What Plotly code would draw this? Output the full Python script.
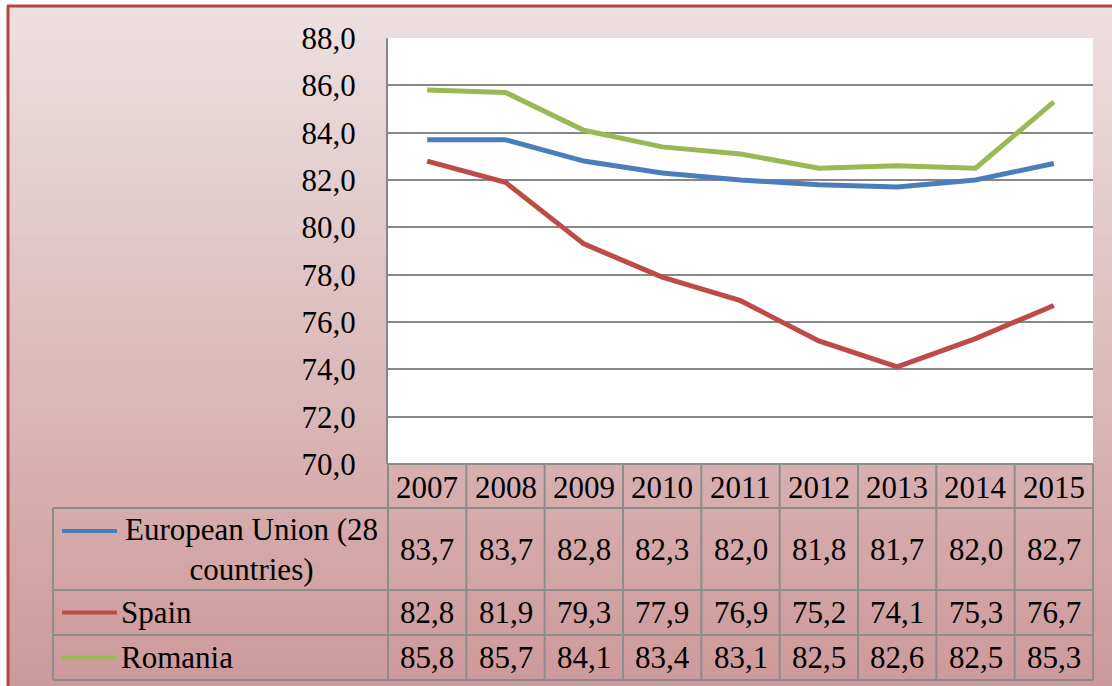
import plotly.graph_objects as go

# ---- data ----
years = ["2007", "2008", "2009", "2010", "2011", "2012", "2013", "2014", "2015"]
eu = [83.7, 83.7, 82.8, 82.3, 82.0, 81.8, 81.7, 82.0, 82.7]
spain = [82.8, 81.9, 79.3, 77.9, 76.9, 75.2, 74.1, 75.3, 76.7]
romania = [85.8, 85.7, 84.1, 83.4, 83.1, 82.5, 82.6, 82.5, 85.3]
series_labels = ["European Union (28<br>countries)", "Spain", "Romania"]
series_values = [eu, spain, romania]
series_colors = ["#4a7ebb", "#be4b48", "#98b954"]
y_ticks = [70, 72, 74, 76, 78, 80, 82, 84, 86, 88]

# ---- geometry (pixels) ----
W, H = 1112, 686
L, R, T, B = 388, 1093, 38, 464
PW, PH = R - L, B - T


def px(x):
    return (x - L) / PW


def py(y):
    return (B - y) / PH


FONT = "Liberation Serif"
FS = 31
GRID = "#878787"

fig = go.Figure()
for name, vals, col in zip(series_labels, series_values, series_colors):
    fig.add_trace(go.Scatter(x=years, y=vals, mode="lines", name=name.replace("<br>", " "),
                             line=dict(color=col, width=5), showlegend=False))

shapes = []
# background gradient
top_c = (0xed, 0xe0, 0xe1)
bot_c = (0xcd, 0x99, 0x9a)
y0 = 7
nb = 68
step = (H - y0) / nb
for i in range(nb):
    t = (i + 0.5) / nb
    c = tuple(round(a + (b - a) * t) for a, b in zip(top_c, bot_c))
    ya = y0 + i * step
    yb = ya + step + 1
    shapes.append(dict(type="rect", xref="paper", yref="paper", layer="below",
                       x0=px(8), x1=px(W + 2), y0=py(ya), y1=py(min(yb, H + 2)),
                       fillcolor="rgb(%d,%d,%d)" % c, line=dict(width=0)))
# plot area white
shapes.append(dict(type="rect", xref="paper", yref="paper", layer="below",
                   x0=0, x1=1, y0=0, y1=1, fillcolor="white", line=dict(width=0)))
# outer border
shapes.append(dict(type="line", xref="paper", yref="paper", x0=px(7), x1=px(W + 2),
                   y0=py(6), y1=py(6), line=dict(color="#b04646", width=3)))
shapes.append(dict(type="line", xref="paper", yref="paper", x0=px(8), x1=px(8),
                   y0=py(6), y1=py(H + 2), line=dict(color="#b04646", width=3)))

# data table
n = len(years)
TL = 53
row_lines = [508, 590, 635, 680]
tbl_line = dict(color="#8c8c8c", width=2)
for k in range(n + 1):
    shapes.append(dict(type="line", xref="paper", yref="paper", x0=k / n, x1=k / n,
                       y0=py(B), y1=py(row_lines[-1]), line=tbl_line))
shapes.append(dict(type="line", xref="paper", yref="paper", x0=px(TL), x1=px(TL),
                   y0=py(row_lines[0]), y1=py(row_lines[-1]), line=tbl_line))
shapes.append(dict(type="line", xref="paper", yref="paper", x0=0, x1=1,
                   y0=py(B), y1=py(B), line=tbl_line))
for yy in row_lines:
    shapes.append(dict(type="line", xref="paper", yref="paper", x0=px(TL), x1=1,
                       y0=py(yy), y1=py(yy), line=tbl_line))

annotations = []
tf = dict(family=FONT, size=FS, color="black")
for k, yr in enumerate(years):
    annotations.append(dict(x=(k + 0.5) / n, y=py((B + row_lines[0]) / 2 + 1), xref="paper", yref="paper",
                            text=yr, showarrow=False, font=tf, xanchor="center", yanchor="middle"))
for r, (lab, vals, col) in enumerate(zip(series_labels, series_values, series_colors)):
    ytop, ybot = row_lines[r], row_lines[r + 1]
    yc = (ytop + ybot) / 2
    for k, v in enumerate(vals):
        annotations.append(dict(x=(k + 0.5) / n, y=py(yc), xref="paper", yref="paper",
                                text=("%.1f" % v).replace(".", ","), showarrow=False, font=tf,
                                xanchor="center", yanchor="middle"))
    if "<br>" in lab:
        ly = ytop + 23
        annotations.append(dict(x=px(251), y=py(yc), xref="paper", yref="paper", text=lab,
                                showarrow=False, font=tf, xanchor="center", yanchor="middle",
                                align="center"))
    else:
        ly = yc
        annotations.append(dict(x=px(119), y=py(yc), xref="paper", yref="paper", text=lab,
                                showarrow=False, font=tf, xanchor="left", yanchor="middle"))
    shapes.append(dict(type="line", xref="paper", yref="paper", x0=px(62), x1=px(117),
                       y0=py(ly), y1=py(ly), line=dict(color=col, width=4)))

fig.update_layout(
    width=W, height=H, autosize=False,
    margin=dict(l=L, r=W - R, t=T, b=H - B, pad=0),
    paper_bgcolor="white", plot_bgcolor="rgba(0,0,0,0)",
    separators=",.",
    font=dict(family=FONT, size=FS, color="black"),
    xaxis=dict(type="category", range=[-0.5, n - 0.5], showticklabels=False,
               showgrid=False, zeroline=False, showline=False, fixedrange=True),
    yaxis=dict(range=[70, 88], tickvals=y_ticks, tickformat=".1f", showgrid=True,
               gridcolor=GRID, gridwidth=2, zeroline=False, showline=True,
               linecolor=GRID, linewidth=2, ticks="", ticklabelstandoff=24,
               tickfont=dict(family=FONT, size=FS, color="black"), fixedrange=True),
    shapes=shapes, annotations=annotations,
)

fig.write_html("out.html", config={"displayModeBar": False},
               post_script="document.body.style.margin='0';document.body.style.overflow='hidden';")
